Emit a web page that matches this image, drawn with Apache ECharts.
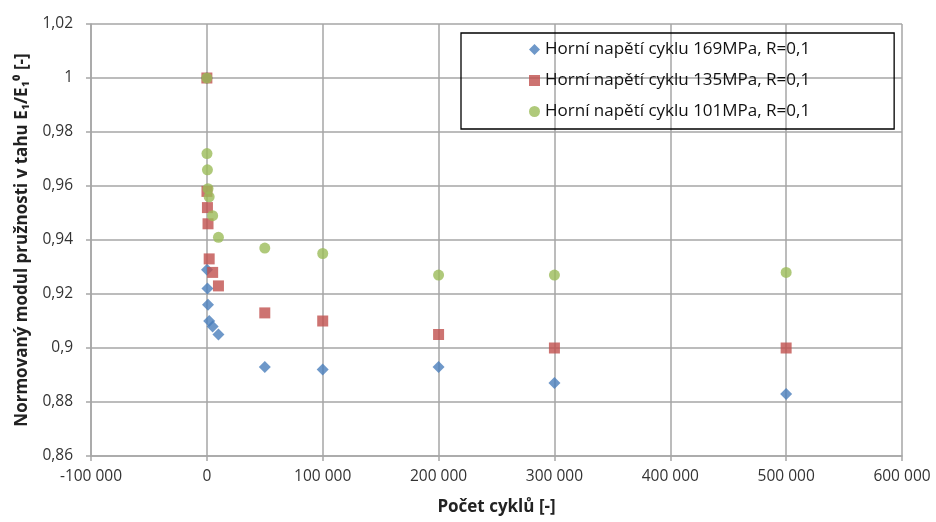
<!DOCTYPE html>
<html>
<head>
<meta charset="utf-8">
<script src="https://cdn.jsdelivr.net/npm/echarts@6/dist/echarts.min.js"></script>
<style>html,body{margin:0;padding:0;background:#fff}#c{width:936px;height:522px}</style>
</head>
<body>
<div id="c"></div>
<script>
const cycles = [0, 100, 500, 1000, 2000, 5000, 10000, 50000, 100000, 200000, 300000, 500000];
const s169 = [1.000, 0.929, 0.922, 0.916, 0.910, 0.908, 0.905, 0.893, 0.892, 0.893, 0.887, 0.883];
const s135 = [1.000, 0.958, 0.952, 0.946, 0.933, 0.928, 0.923, 0.913, 0.910, 0.905, 0.900, 0.900];
const s101 = [1.000, 0.972, 0.966, 0.959, 0.956, 0.949, 0.941, 0.937, 0.935, 0.927, 0.927, 0.928];
const seriesNames = ['Horní napětí cyklu 169MPa, R=0,1', 'Horní napětí cyklu 135MPa, R=0,1', 'Horní napětí cyklu 101MPa, R=0,1'];
const xTitle = 'Počet cyklů [-]';
const yTitle = 'Normovaný modul pružnosti v tahu E₁/E₁⁰ [-]';

const pair = arr => cycles.map((c, i) => [c, arr[i]]);
const FONT = 'Open Sans';
const fmtX = v => { const s = String(Math.abs(Math.round(v))).replace(/\B(?=(\d{3})+(?!\d))/g, ' '); return (v < 0 ? '-' : '') + s; };
const fmtY = v => String(parseFloat(v.toFixed(2))).replace('.', ',');
const gray = '#a6a6a6';

const chart = echarts.init(document.getElementById('c'), null, {renderer: 'canvas'});
chart.setOption({
  animation: false,
  backgroundColor: '#fff',
  textStyle: {fontFamily: FONT},
  grid: {left: 91, right: 34, top: 24, bottom: 66, containLabel: false},
  legend: {
    left: 461, top: 33, orient: 'vertical',
    padding: [8, 84, 9, 68], itemGap: 14,
    itemWidth: 11, itemHeight: 11,
    borderColor: '#000', borderWidth: 1.3,
    textStyle: {fontFamily: FONT, fontSize: 17, color: '#111'},
    data: seriesNames
  },
  xAxis: {
    type: 'value', min: -100000, max: 600000, interval: 100000,
    name: xTitle, nameLocation: 'middle', nameGap: 43,
    nameTextStyle: {fontFamily: FONT, fontSize: 17, fontWeight: 'bold', color: '#222'},
    axisLine: {onZero: false, lineStyle: {color: gray, width: 1.5}},
    axisTick: {show: true, length: 5, lineStyle: {color: gray, width: 1.5}},
    axisLabel: {formatter: fmtX, fontSize: 15.5, color: '#333', margin: 13},
    splitLine: {show: true, lineStyle: {color: gray, width: 1.5}}
  },
  yAxis: {
    type: 'value', min: 0.86, max: 1.02, interval: 0.02,
    name: yTitle, nameLocation: 'middle', nameGap: 60,
    nameTextStyle: {fontFamily: FONT, fontSize: 17, fontWeight: 'bold', color: '#222'},
    axisLine: {show: true, onZero: false, lineStyle: {color: gray, width: 1.5}},
    axisTick: {show: true, length: 5, lineStyle: {color: gray, width: 1.5}},
    axisLabel: {formatter: fmtY, fontSize: 15.5, color: '#333', margin: 18},
    splitLine: {show: true, lineStyle: {color: gray, width: 1.5}}
  },
  series: [
    {name: seriesNames[0], type: 'scatter', symbol: 'diamond', symbolSize: 12, itemStyle: {color: '#4a7ebb'}, data: pair(s169)},
    {name: seriesNames[1], type: 'scatter', symbol: 'rect', symbolSize: 11, itemStyle: {color: '#c0504d'}, data: pair(s135)},
    {name: seriesNames[2], type: 'scatter', symbol: 'circle', symbolSize: 11, itemStyle: {color: '#9bbb59'}, data: pair(s101)}
  ]
});
</script>
</body>
</html>
